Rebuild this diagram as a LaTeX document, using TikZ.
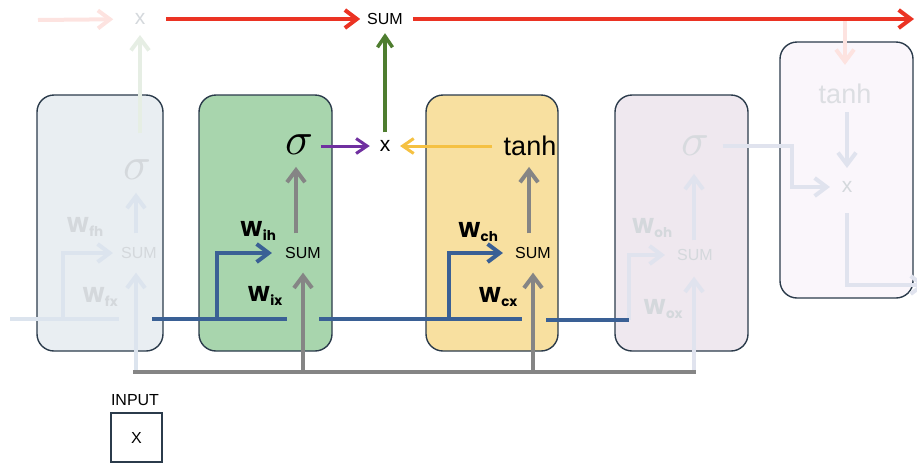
\documentclass[tikz,border=0pt]{standalone}
\usepackage{graphicx}
\usepackage{fontspec}
\setmainfont{Liberation Sans}
\newfontfamily\wfont{Poppins}
\usetikzlibrary{arrows.meta}
\definecolor{redc}{HTML}{EB3323}
\definecolor{redf}{HTML}{FDE3E0}
\definecolor{greenc}{HTML}{4E7D2F}
\definecolor{greenf}{HTML}{E6EEE4}
\definecolor{purplec}{HTML}{7030A0}
\definecolor{yellowc}{HTML}{F5C142}
\definecolor{bluec}{HTML}{3A6095}
\definecolor{bluef}{HTML}{DCE4EE}
\definecolor{fadeb}{HTML}{E0E3EE}
\definecolor{grayc}{HTML}{858585}
\definecolor{bordc}{HTML}{2B3B4B}
\definecolor{fillone}{HTML}{E9EEF2}
\definecolor{filltwo}{HTML}{A8D5AD}
\definecolor{fillthree}{HTML}{F8E0A0}
\definecolor{fillfour}{HTML}{EFE8EF}
\definecolor{fillfive}{HTML}{FAF6FB}
\definecolor{fadetxt}{HTML}{D4D8DC}
\newcommand\Wsub[1]{{\wfont\fontsize{21.5}{21.5}\selectfont\bfseries W}\raisebox{-4.5pt}{\wfont\fontsize{13.5}{13.5}\selectfont\bfseries #1}}
\newcommand\bigsig{\scalebox{4.6}{$\sigma$}}
\begin{document}
\begin{tikzpicture}[x=1pt,y=-1pt,
  every node/.style={inner sep=0pt, outer sep=0pt},
  cell/.style={draw=bordc, line width=1.4pt, rounded corners=17pt, minimum width=#1, minimum height=256pt},
  bigarr/.style={line width=4pt, -{Straight Barb[length=12pt,width=18pt]}},
  midarr/.style={line width=3pt, -{Straight Barb[length=11pt,width=15pt]}},
  plain/.style={line width=4pt},
  sumtxt/.style={font=\fontsize{16}{16}\selectfont},
  multtxt/.style={font=\fontsize{21}{21}\selectfont},
  tanhtxt/.style={font=\fontsize{27}{27}\selectfont}]
\useasboundingbox (0,0) rectangle (917,464);

% cells
\node[cell=126, fill=fillone] (b1) at (100,223) {};
\node[cell=133, fill=filltwo] (b2) at (265.5,223) {};
\node[cell=132, fill=fillthree] (b3) at (492,223) {};
\node[cell=133, fill=fillfour] (b4) at (681.5,223) {};
\node[cell=133, fill=fillfive] (b5) at (846.5,170) {};

% texts
\node[multtxt, text=fadetxt] (fx) at (140,19) {x};
\node[sumtxt] (tsum) at (385,19) {SUM};
\node[multtxt] (mx) at (385,146) {x};
\node (s2) at (299,145) {\bigsig};
\node[tanhtxt] (t3) at (530,146) {tanh};
\node[sumtxt, text=fadetxt] (sum1) at (139,253) {SUM};
\node[sumtxt] (sum2) at (303,253) {SUM};
\node[sumtxt] (sum3) at (533,253) {SUM};
\node[sumtxt, text=fadetxt] (sum4) at (695,255) {SUM};
\node[text=fadetxt] (sig1) at (137,170) {\bigsig};
\node[text=fadetxt!90!fillfour] (sig4) at (695,146) {\bigsig};
\node[tanhtxt, text=fadetxt!80!fillfive] (t5) at (845,94) {tanh};
\node[multtxt, text=fadetxt] (x5) at (847,187) {x};

\node[text=fadetxt] (wfh) at (85,227) {\Wsub{fh}};
\node[text=fadetxt] (wfx) at (100,297) {\Wsub{fx}};
\node (wih) at (258,231) {\Wsub{ih}};
\node (wix) at (265,296) {\Wsub{ix}};
\node (wch) at (478,232) {\Wsub{ch}};
\node (wcx) at (498,297) {\Wsub{cx}};
\node[text=fadetxt] (woh) at (652,228) {\Wsub{oh}};
\node[text=fadetxt] (wox) at (663,309) {\Wsub{ox}};

\node[sumtxt] (inlab) at (135,400) {INPUT};
\node[sumtxt, draw=bordc, line width=1.4pt, minimum width=51pt, minimum height=49pt] (inbox) at (136.5,437.5) {X};

% coordinates
\coordinate (rin) at (38,20);
\coordinate (rout) at (914,19);
\coordinate (gL) at (133,372);
\coordinate (gR) at (696,372);
\coordinate (hA) at (152,319);
\coordinate (hB) at (287,319);
\coordinate (hC) at (319,319);
\coordinate (hD) at (522,319);
\coordinate (hE) at (546,320);
\coordinate (hF) at (629,320);
\coordinate (hz0) at (10,319);
\coordinate (hz1) at (119,319);
\coordinate (br1) at (63,319);
\coordinate (br2) at (217,319);
\coordinate (br3) at (449,319);
\coordinate (v1) at (136,372);
\coordinate (v4) at (694,372);
\coordinate (k4) at (792,146);
\coordinate (rdrop) at (846,21);
\coordinate (o5) at (847,285);
\coordinate (oe) at (926,285);

% faded connectors
\draw[bigarr, redf, shorten >=21.5] (rin) -- (fx);
\draw[bigarr, greenf, shorten <=27, shorten >=10.5] (fx |- sig1.north) -- (fx);
\draw[plain, bluef] (hz0) -- (hz1);
\draw[bigarr, bluef, shorten >=8.3] (br1) |- (sum1);
\draw[bigarr, bluef, shorten >=14] (v1) -- (v1 |- sum1.south);
\draw[bigarr, bluef, shorten <=14, shorten >=13] (v1 |- sum1.north) -- (v1 |- sig1.south);
\draw[bigarr, fadeb, shorten >=12.3] (hF) |- (sum4);
\draw[bigarr, fadeb, shorten >=16] (v4) -- (v4 |- sum4.south);
\draw[bigarr, fadeb, shorten <=9, shorten >=18] (v4 |- sum4.north) -- (v4 |- sig4.south);
\draw[bigarr, fadeb, shorten <=13.8, shorten >=11.8] (sig4) -- (k4) |- (x5);
\draw[bigarr, redf, shorten >=19.2] (t5 |- rdrop) -- (t5);
\draw[bigarr, fadeb, shorten <=8.2, shorten >=13.5] (x5 |- t5.south) -- (x5);
\draw[bigarr, fadeb, shorten <=20.5] (x5) -- (o5) -- (oe);

% main connectors
\draw[bigarr, redc, shorten <=21, shorten >=7] (fx) -- (tsum);
\draw[bigarr, redc, shorten <=10] (tsum) -- (rout);
\draw[midarr, greenc, line width=3.5pt, shorten <=8, shorten >=8.5] (mx) -- (tsum);
\draw[midarr, purplec, shorten <=8, shorten >=10] (s2.east |- mx) -- (mx);
\draw[midarr, yellowc, shorten <=11.7, shorten >=9.8] (t3.west |- mx) -- (mx);

\draw[plain, grayc] (gL) -- (gR);
\draw[bigarr, grayc, shorten >=14] (sum2 |- gL) -- (sum2.south);
\draw[bigarr, grayc, shorten >=14] (sum3 |- gL) -- (sum3.south);
\draw[bigarr, grayc, shorten <=14, shorten >=12] ([xshift=-3pt]s2 |- sum2.north) -- ([xshift=-3pt]s2.south);
\draw[bigarr, grayc, shorten <=14, shorten >=11] ([xshift=-1pt]t3 |- sum3.north) -- ([xshift=-1pt]t3.south);

\draw[plain, bluec] (hA) -- (hB);
\draw[plain, bluec] (hC) -- (hD);
\draw[plain, bluec] (hE) -- (hF);
\draw[bigarr, bluec, shorten >=13.3] (br2) |- (sum2);
\draw[bigarr, bluec, shorten >=12.3] (br3) |- (sum3);
\end{tikzpicture}
\end{document}
